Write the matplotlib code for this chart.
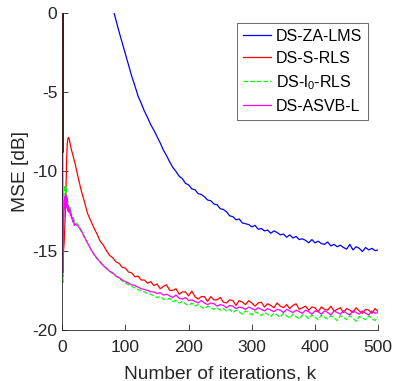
import matplotlib
matplotlib.use('Agg')
import matplotlib.pyplot as plt

plt.rcParams['font.family'] = ['Liberation Sans', 'DejaVu Sans']
plt.rcParams['mathtext.default'] = 'regular'
plt.rcParams['axes.unicode_minus'] = False

# iteration index: every step up to 20, then every 5
iters = list(range(0, 21)) + list(range(25, 501, 5))

# MSE curves [dB]
za_lms = [14.0, -8.8, 14.0, 13.5, 13.0, 12.6, 12.2, 11.9, 11.6, 11.3, 11.0,
          10.8, 10.6, 10.4, 10.2, 10.0, 9.8, 9.6, 9.4, 9.2, 9.0,
          8.2, 7.5, 6.8, 6.2, 5.6, 5.0, 4.3, 3.5, 2.7, 1.9, 1.1,
          0.3, -0.45, -1.2, -1.9, -2.6, -3.3, -4.0, -4.6, -5.25, -5.7,
          -6.2, -6.6, -7.05, -7.4, -7.8, -8.2, -8.65, -9.0, -9.4, -9.75,
          -10.0, -10.3, -10.45, -10.75, -10.85, -11.1, -11.15, -11.4, -11.45, -11.6,
          -11.8, -11.85, -12.05, -12.1, -12.35, -12.4, -12.55, -12.8, -12.85, -13.05,
          -13.0, -13.25, -13.3, -13.35, -13.5, -13.4, -13.65, -13.6, -13.75, -13.7,
          -13.9, -13.75, -13.85, -14.0, -13.95, -14.15, -14.0, -14.2, -14.1, -14.3,
          -14.25, -14.35, -14.5, -14.3, -14.5, -14.4, -14.55, -14.6, -14.45, -14.7,
          -14.6, -14.75, -14.65, -14.8, -14.9, -14.6, -14.95, -14.75, -14.85, -15.05,
          -14.8, -14.95, -14.85, -15.0, -14.95]

s_rls = [14.0, -16.0, -15.0, -14.5, -13.5, -12.5, -11.0, -9.2, -8.2, -7.9, -7.85,
         -7.95, -8.15, -8.35, -8.55, -8.7, -8.85, -9.0, -9.15, -9.3, -9.45,
         -10.35, -11.2, -11.9, -12.65, -13.1, -13.55, -13.95, -14.4, -14.65, -15.0,
         -15.3, -15.45, -15.7, -15.8, -16.05, -16.1, -16.35, -16.4, -16.65, -16.6,
         -16.85, -16.85, -17.05, -16.95, -17.2,
         -17.1, -17.4, -17.25, -17.15, -17.5, -17.5, -17.4, -17.75, -17.6, -17.6,
         -17.85, -17.55, -17.9, -18.05, -17.9, -17.9, -18.2, -17.9, -18.1, -18.1,
         -17.95, -18.25, -18.3, -18.1, -18.15, -18.45, -18.15, -18.25, -18.4, -18.15,
         -18.3, -18.5, -18.3, -18.25, -18.55, -18.35, -18.45, -18.6, -18.3, -18.5,
         -18.6, -18.4, -18.65, -18.45, -18.35, -18.7, -18.6, -18.5, -18.75, -18.55,
         -18.6, -18.85, -18.55, -18.7, -18.75, -18.5, -18.8, -18.7, -18.6, -18.9,
         -18.65, -18.75, -18.9, -18.6, -18.8, -18.95, -18.7, -18.75, -18.95, -18.65,
         -18.85]

l0_rls = [-14.0, -17.0, -13.0, -11.2, -10.9, -11.4, -11.0, -11.8, -12.0, -11.9, -12.3,
          -12.2, -12.4, -12.3, -12.6, -12.7, -12.8, -12.9, -13.0, -13.1, -13.15,
          -13.35, -13.8, -14.1, -14.55, -14.85, -15.25, -15.45, -15.75, -15.9, -16.15,
          -16.3, -16.45, -16.6, -16.75, -16.9, -17.05, -17.15, -17.25, -17.35, -17.45,
          -17.55, -17.6, -17.7, -17.75, -17.85,
          -17.95, -17.9, -18.05, -18.1, -18.0, -18.2, -18.15, -18.3, -18.2, -18.35,
          -18.45, -18.3, -18.5, -18.4, -18.55, -18.65, -18.5, -18.6, -18.7, -18.6,
          -18.75, -18.65, -18.8, -18.7, -18.9, -18.75, -18.85, -19.0, -18.8, -18.9,
          -19.05, -18.85, -18.95, -19.1, -18.9, -19.0, -19.15, -18.95, -19.05, -19.2,
          -18.95, -19.1, -19.25, -19.0, -19.15, -19.3, -19.05, -19.1, -19.3, -19.05,
          -19.2, -19.35, -19.05, -19.2, -19.3, -19.1, -19.25, -19.4, -19.1, -19.2,
          -19.35, -19.1, -19.25, -19.45, -19.15, -19.25, -19.35, -19.1, -19.3, -19.4,
          -19.2]

asvb_l = [-9.2, -16.4, -13.5, -12.0, -11.6, -12.4, -11.5, -12.3, -11.7, -12.5, -12.2,
          -12.6, -12.4, -12.8, -12.7, -13.0, -12.9, -13.2, -13.1, -13.4, -13.3,
          -13.45, -13.7, -14.15, -14.5, -14.9, -15.2, -15.5, -15.7, -15.95, -16.1,
          -16.3, -16.4, -16.6, -16.7, -16.85, -16.95, -17.05, -17.15, -17.2, -17.3,
          -17.4, -17.45, -17.5, -17.6, -17.6,
          -17.7, -17.65, -17.8, -17.75, -17.85, -17.95, -17.8, -18.0, -18.05, -17.95,
          -18.15, -18.1, -18.2, -18.3, -18.15, -18.3, -18.4, -18.3, -18.35, -18.5,
          -18.4, -18.45, -18.6, -18.45, -18.5, -18.65, -18.55, -18.6, -18.7, -18.55,
          -18.65, -18.75, -18.6, -18.7, -18.8, -18.65, -18.75, -18.85, -18.7, -18.75,
          -18.9, -18.7, -18.8, -18.9, -18.75, -18.85, -18.95, -18.75, -18.85, -19.0,
          -18.8, -18.85, -19.0, -18.8, -18.9, -19.05, -18.8, -18.9, -19.0, -18.8,
          -18.95, -19.05, -18.8, -18.9, -19.0, -18.8, -18.95, -19.05, -18.8, -18.95,
          -18.9]

labels = ['DS-ZA-LMS', 'DS-S-RLS', 'DS-l$_0$-RLS', 'DS-ASVB-L']

fig = plt.figure(figsize=(3.94, 3.81), dpi=100)
ax = fig.add_axes([0.158, 0.134, 0.802, 0.832])

ax.plot(iters, za_lms, color='#0000ff', lw=0.9, label=labels[0])
ax.plot(iters, s_rls, color='#ff0000', lw=0.9, label=labels[1])
ax.plot(iters, l0_rls, color='#00ff00', lw=0.9, ls='--', label=labels[2])
ax.plot(iters, asvb_l, color='#ff00ff', lw=0.9, label=labels[3])

ax.set_xlim(0, 500)
ax.set_ylim(-20, 0)
ax.set_xticks([0, 100, 200, 300, 400, 500])
ax.set_yticks([-20, -15, -10, -5, 0])
ax.tick_params(direction='in', labelsize=12.5, colors='#262626', length=4, width=0.6)
ax.tick_params(axis='x', pad=7.5)
for s in ['top', 'right']:
    ax.spines[s].set_visible(False)
for s in ['left', 'bottom']:
    ax.spines[s].set_color('#262626')
    ax.spines[s].set_linewidth(0.6)

ax.set_xlabel('Number of iterations, k', fontsize=13.8, color='#262626', labelpad=7)
ax.set_ylabel('MSE [dB]', fontsize=13.8, color='#262626', labelpad=2)

leg = ax.legend(loc='upper right', bbox_to_anchor=(0.968, 0.968), borderaxespad=0,
                fontsize=11.5, frameon=True, fancybox=False, handlelength=1.8,
                handletextpad=0.3, labelspacing=0.45, borderpad=0.35)
leg.get_frame().set_edgecolor('#262626')
leg.get_frame().set_linewidth(0.6)

fig.savefig('out.png', dpi=100)
